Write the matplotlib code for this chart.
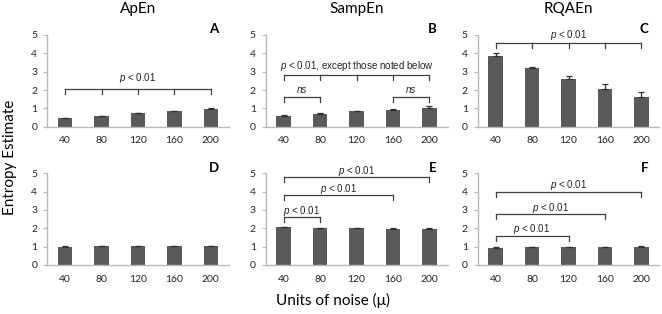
import numpy as np
import matplotlib
matplotlib.use('Agg')
import matplotlib.pyplot as plt

matplotlib.rcParams['mathtext.fontset'] = 'custom'
matplotlib.rcParams['mathtext.it'] = 'Liberation Sans:italic'
matplotlib.rcParams['mathtext.rm'] = 'Liberation Sans'

noise = ['40', '80', '120', '160', '200']

apen = [0.45, 0.57, 0.72, 0.84, 0.94]
apen_err = [0.04, 0.04, 0.04, 0.04, 0.06]
sampen = [0.60, 0.70, 0.83, 0.93, 1.03]
sampen_err = [0.05, 0.03, 0.03, 0.06, 0.08]
rqaen = [3.87, 3.18, 2.58, 2.06, 1.60]
rqaen_err = [0.16, 0.09, 0.18, 0.25, 0.30]

apen2 = [1.00, 1.02, 1.02, 1.02, 1.02]
apen2_err = [0.02, 0.02, 0.03, 0.03, 0.03]
sampen2 = [2.05, 2.00, 2.00, 1.98, 1.99]
sampen2_err = [0.02, 0.02, 0.02, 0.02, 0.02]
rqaen2 = [0.95, 0.97, 0.98, 0.99, 0.99]
rqaen2_err = [0.01, 0.01, 0.02, 0.01, 0.02]

W, H = 662, 314
fig = plt.figure(figsize=(W / 100, H / 100), dpi=100)

lefts = [47, 265.5, 477.5]
bottoms = [126.7, 265]
aw, ah = 182, 91.7

bar_c = '#5a5a5a'
spine_c = '#b8b8b8'
tfont = 'Lato'
afont = 'Liberation Sans'
PLT = r'$\it{p}$ < 0.01'


def panel(col, row, vals, err, letter):
    ax = fig.add_axes([lefts[col] / W, 1 - bottoms[row] / H, aw / W, ah / H])
    x = np.arange(len(vals))
    ax.bar(x, vals, width=0.4, color=bar_c, zorder=2)
    ax.errorbar(x, vals, yerr=[np.zeros(len(vals)), err], fmt='none',
                ecolor='#303030', elinewidth=0.9, capsize=2.2, capthick=0.9, zorder=3)
    ax.set_xlim(-0.5, 4.5)
    ax.set_ylim(0, 5)
    ax.set_xticks(x)
    ax.set_xticklabels(noise, fontname=tfont, fontsize=7.5, color='#222222')
    ax.set_yticks(range(6))
    ax.set_yticklabels([str(i) for i in range(6)], fontname=tfont, fontsize=7.5, color='#222222')
    ax.tick_params(axis='x', length=0, pad=7)
    ax.tick_params(axis='y', length=3, width=0.8, color=spine_c, pad=4)
    for s in ['top', 'right']:
        ax.spines[s].set_visible(False)
    for s in ['left', 'bottom']:
        ax.spines[s].set_color(spine_c)
        ax.spines[s].set_linewidth(1.0)
    ax.text(4.08, 5.3, letter, fontname=tfont, fontweight='bold', fontsize=9.5,
            ha='center', va='center', clip_on=False)
    return ax


def bracket(ax, x0, x1, y, label, ty, ticks=None, italic=False, drop=0.27):
    kw = dict(color='#404040', lw=0.9, clip_on=False, zorder=4)
    ax.plot([x0, x1], [y, y], **kw)
    for t in (ticks if ticks is not None else [x0, x1]):
        ax.plot([t, t], [y, y - drop], **kw)
    ax.text((x0 + x1) / 2, ty, label, fontname=afont, fontsize=7,
            style='italic' if italic else 'normal', ha='center', va='center',
            color='#222222', clip_on=False)


axA = panel(0, 0, apen, apen_err, 'A')
axA.set_title('ApEn', fontname=tfont, fontsize=11, pad=16)
bracket(axA, 0, 4, 2.05, PLT, 2.65, ticks=range(5))

axB = panel(1, 0, sampen, sampen_err, 'B')
axB.set_title('SampEn', fontname=tfont, fontsize=11, pad=16)
bracket(axB, 0, 4, 2.82, r'$\it{p}$ < 0.01, except those noted below', 3.3, ticks=range(5))
bracket(axB, 0, 1, 1.64, 'ns', 2.0, italic=True)
bracket(axB, 3, 4, 1.64, 'ns', 2.0, italic=True)

axC = panel(2, 0, rqaen, rqaen_err, 'C')
axC.set_title('RQAEn', fontname=tfont, fontsize=11, pad=16)
bracket(axC, 0, 4, 4.58, PLT, 5.0, ticks=range(5))

axD = panel(0, 1, apen2, apen2_err, 'D')

axE = panel(1, 1, sampen2, sampen2_err, 'E')
bracket(axE, 0, 4, 4.82, PLT, 5.12)
bracket(axE, 0, 3, 3.82, PLT, 4.12)
bracket(axE, 0, 1, 2.64, PLT, 2.94)

axF = panel(2, 1, rqaen2, rqaen2_err, 'F')
bracket(axF, 0, 4, 4.0, PLT, 4.35)
bracket(axF, 0, 3, 2.77, PLT, 3.12)
bracket(axF, 0, 2, 1.6, PLT, 1.95)

fig.text(10 / W, 1 - 157 / H, 'Entropy Estimate', rotation=90, fontname=tfont,
         fontsize=11, ha='center', va='center')
fig.text(333 / W, 1 - 300 / H, 'Units of noise (\u03bc)', fontname=tfont,
         fontsize=11, ha='center', va='center')

fig.savefig('out.png', dpi=100)
